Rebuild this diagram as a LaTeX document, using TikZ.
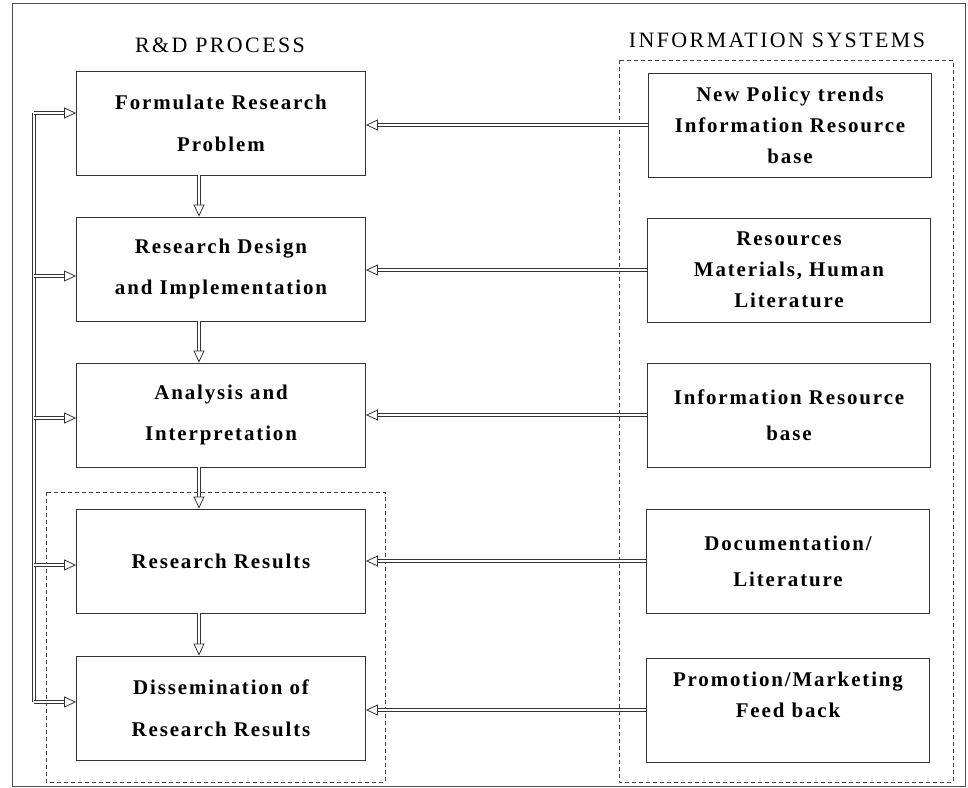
\documentclass[tikz,border=0pt]{standalone}
\usepackage{fontspec}
\setmainfont{Liberation Serif}
\newfontfamily\boxfont{Liberation Serif}[LetterSpace=9]
\newfontfamily\titlefont{Liberation Serif}[LetterSpace=11]
\usetikzlibrary{arrows.meta}

\tikzset{
  procbox/.style={draw=black!80, line width=0.8bp, minimum width=289bp, minimum height=104bp,
    align=center, font=\boxfont\bfseries\fontsize{21}{42}\selectfont},
  infobox/.style={draw=black!80, line width=0.8bp, minimum width=283bp, minimum height=104bp,
    align=center, font=\boxfont\bfseries\fontsize{21}{31}\selectfont},
  headline/.style={font=\titlefont\fontsize{22}{26}\selectfont},
  dblarrow/.style={draw=black!80, line width=0.8bp, double, double distance=2.4bp,
    -{Triangle[open,length=12bp,width=11bp]}},
  dblline/.style={draw=black!80, line width=0.8bp, double, double distance=2.4bp},
  groupbox/.style={draw=black!75, line width=0.7bp, dash pattern=on 4bp off 3bp}
}

\begin{document}
\begin{tikzpicture}[x=1bp, y=-1bp]
            \useasboundingbox (0,0) rectangle (968,788);
            \draw[black!70, line width=0.8bp] (12,3) rectangle (965,786);

            % headings
            \node[headline] (rdtitle) at (220,45) {R\&D PROCESS};
            \node[headline] (istitle) at (777,40) {INFORMATION SYSTEMS};

            % groups
            \draw[groupbox] (46,492) rectangle (385,782);
            \draw[groupbox] (619,60) rectangle (953,782);

            % R&D process
            \node[procbox] (l1) at (221,123) {Formulate Research\\Problem};
            \node[procbox] (l2) at (221,269) {Research Design\\and Implementation};
            \node[procbox] (l3) at (221,415) {Analysis and\\Interpretation};
            \node[procbox] (l4) at (221,561) {Research Results};
            \node[procbox] (l5) at (221,708) {Dissemination of\\Research Results};

            % information systems
            \node[infobox] (r1) at (790,125) {New Policy trends\\Information Resource\\base};
            \node[infobox] (r2) at (789,270) {Resources\\Materials, Human\\Literature};
            \node[infobox] (r3) at (789,415) {Information Resource\\[5bp]base};
            \node[infobox] (r4) at (788,561) {Documentation/\\[5bp]Literature};
            \node[infobox] (r5) at (788,710) {Promotion/Marketing\\Feed back\\\mbox{}};

            % process flow
            \foreach \i/\j in {1/2,2/3,3/4,4/5}
              \draw[dblarrow] ([xshift=-22bp]l\i.south) -- ([xshift=-22bp]l\j.north);

            % information inputs
            \foreach \i in {1,...,5}
              \draw[dblarrow] (r\i.west) -- (r\i.west -| l\i.east);

            % feedback loop
            \coordinate (fb1) at (34,113);
            \coordinate (fb2) at (34,276);
            \coordinate (fb3) at (34,418);
            \coordinate (fb4) at (34,565);
            \coordinate (fb5) at (34,702);
            \draw[dblline] (fb1) -- (fb5);
            \foreach \i in {1,...,5}
              \draw[dblarrow] (fb\i) -- (fb\i -| l\i.west);

\end{tikzpicture}
\end{document}
